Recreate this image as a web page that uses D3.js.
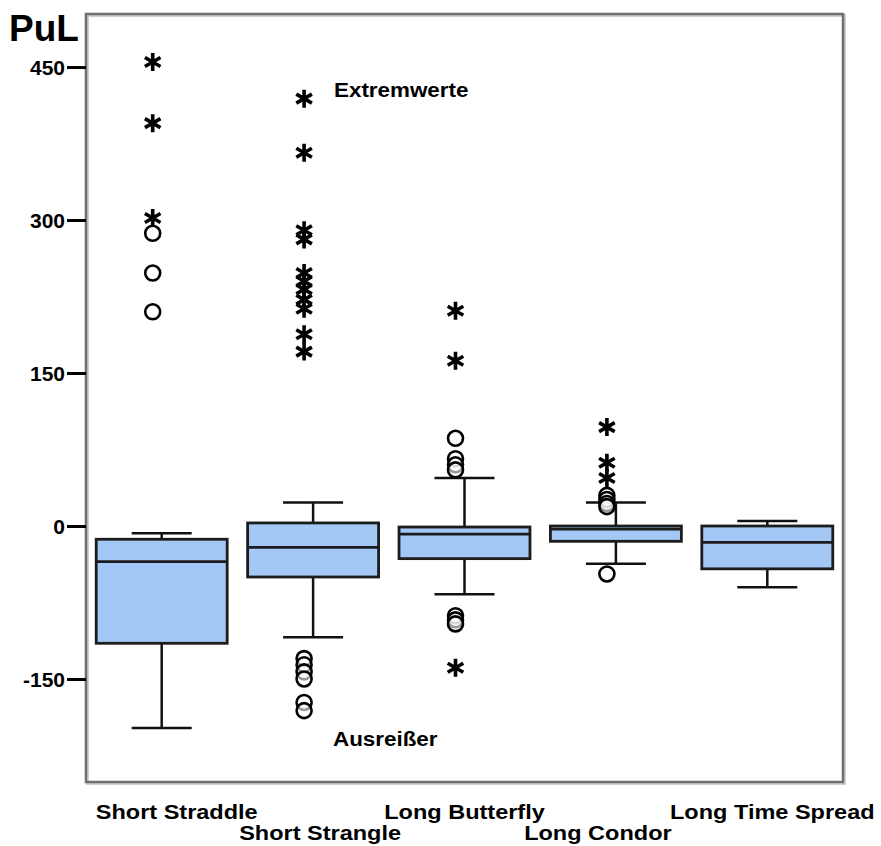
<!DOCTYPE html>
<html>
<head>
<meta charset="utf-8">
<script src="https://cdn.jsdelivr.net/npm/d3@7"></script>
<style>
  body { margin: 0; background: #fff; }
  text { font-family: "Liberation Sans", Arial, Helvetica, sans-serif; font-weight: bold; fill: #000; }
</style>
</head>
<body>
<div id="chart"></div>
<script>
// box plot values (PuL per strategy)
var categories  = ["Short Straddle", "Short Strangle", "Long Butterfly", "Long Condor", "Long Time Spread"];
var whiskerLow  = [-198, -109, -67, -37, -60];
var q1          = [-115, -50, -32, -15, -42];
var median      = [-35, -21, -8, -3, -16];
var q3          = [-13, 3, -1, 0, 0];
var whiskerHigh = [-7, 23, 47, 23, 5];
// circles = outliers, stars = extreme values
var outliers = [
    [287, 248, 210],
    [-130, -136, -143, -150, -173, -181],
    [86, 66, 60, 55, -88, -92, -96],
    [30, 26, 22, 19, -47],
    []
];
var extremes = [
    [455, 395, 302],
    [419, 366, 290, 281, 248, 240, 232, 222, 213, 188, 171],
    [211, 162, -139],
    [97, 62, 47],
    []
];
var yTicks = [-150, 0, 150, 300, 450];

// layout
var W = 881, H = 846;
var plotLeft = 86, plotRight = 843, plotTop = 14, plotBottom = 782;
var xStretch = 1.12; // the original text is a bit wider than Arial

var svg = d3.select("#chart").append("svg")
    .attr("width", W)
    .attr("height", H);

var x = d3.scaleBand()
    .domain(categories)
    .range([plotLeft, plotRight]);

var y = d3.scaleLinear()
    .domain([-251, 502])
    .range([plotBottom, plotTop]);

var boxW = x.bandwidth() * 0.865;
var capW = 60;
var markerShift = -9;

// frame with a soft shadow
svg.append("rect")
    .attr("x", plotLeft + 1.5).attr("y", plotTop + 1.5)
    .attr("width", plotRight - plotLeft).attr("height", plotBottom - plotTop)
    .attr("fill", "none").attr("stroke", "#cfcfcf").attr("stroke-width", 3);
svg.append("rect")
    .attr("x", plotLeft).attr("y", plotTop)
    .attr("width", plotRight - plotLeft).attr("height", plotBottom - plotTop)
    .attr("fill", "none").attr("stroke", "#6e6e6e").attr("stroke-width", 2.5);

// y axis (plain hyphen for negatives, like the original)
var yAxis = svg.append("g")
    .attr("transform", "translate(" + plotLeft + ",0)")
    .call(d3.axisLeft(y).tickValues(yTicks).tickFormat(function (d) { return String(d); })
        .tickSize(19).tickPadding(2));
yAxis.select(".domain").remove();
yAxis.selectAll("line").attr("stroke", "#000").attr("stroke-width", 3);
yAxis.selectAll("text")
    .style("font-size", "21px")
    .attr("dy", "0.36em");

svg.append("text")
    .attr("x", 9).attr("y", 41)
    .style("font-size", "37px")
    .attr("fill", "#1a1a1a")
    .text("PuL");

// boxes
var boxes = categories.map(function (c, i) {
    return { cat: c, lo: whiskerLow[i], q1: q1[i], med: median[i], q3: q3[i], hi: whiskerHigh[i],
             out: outliers[i], ext: extremes[i] };
});

var g = svg.selectAll(".box")
    .data(boxes)
    .enter().append("g")
    .attr("class", "box")
    .attr("transform", function (d) { return "translate(" + (x(d.cat) + x.bandwidth() / 2) + ",0)"; });

// whisker stems
g.append("line")
    .attr("x1", 0).attr("x2", 0)
    .attr("y1", function (d) { return y(d.hi); })
    .attr("y2", function (d) { return y(d.q3); })
    .attr("stroke", "#111").attr("stroke-width", 2.5);
g.append("line")
    .attr("x1", 0).attr("x2", 0)
    .attr("y1", function (d) { return y(d.q1); })
    .attr("y2", function (d) { return y(d.lo); })
    .attr("stroke", "#111").attr("stroke-width", 2.5);

// caps
g.selectAll(".cap")
    .data(function (d) { return [d.hi, d.lo]; })
    .enter().append("line")
    .attr("class", "cap")
    .attr("x1", -capW / 2).attr("x2", capW / 2)
    .attr("y1", function (v) { return y(v); })
    .attr("y2", function (v) { return y(v); })
    .attr("stroke", "#111").attr("stroke-width", 2.5);

// box
g.append("rect")
    .attr("x", -boxW / 2)
    .attr("width", boxW)
    .attr("y", function (d) { return y(d.q3); })
    .attr("height", function (d) { return y(d.q1) - y(d.q3); })
    .attr("fill", "#a3c8f5")
    .attr("stroke", "#1c1c1c")
    .attr("stroke-width", 2.8);

g.append("line")
    .attr("x1", -boxW / 2).attr("x2", boxW / 2)
    .attr("y1", function (d) { return y(d.med); })
    .attr("y2", function (d) { return y(d.med); })
    .attr("stroke", "#1c1c1c").attr("stroke-width", 2.8);

// outlier circles
g.selectAll(".out")
    .data(function (d) { return d.out; })
    .enter().append("circle")
    .attr("class", "out")
    .attr("cx", markerShift)
    .attr("cy", function (v) { return y(v); })
    .attr("r", 7.5)
    .attr("fill", "#fff").attr("fill-opacity", 0.6)
    .attr("stroke", "#000").attr("stroke-width", 2.6);

// extreme value asterisks
var starPath = (function () {
    var r = 9, p = "";
    [90, 30, -30].forEach(function (a) {
        var dx = r * Math.cos(a * Math.PI / 180), dy = r * Math.sin(a * Math.PI / 180);
        p += "M" + (-dx) + "," + (-dy) + "L" + dx + "," + dy;
    });
    return p;
})();

g.selectAll(".ext")
    .data(function (d) { return d.ext; })
    .enter().append("path")
    .attr("class", "ext")
    .attr("d", starPath)
    .attr("transform", function (v) { return "translate(" + markerShift + "," + y(v) + ")"; })
    .attr("stroke", "#000").attr("stroke-width", 3.6).attr("stroke-linecap", "butt")
    .attr("fill", "none");

// annotations
function wideText(tx, ty, str, size, anchor) {
    svg.append("g")
        .attr("transform", "translate(" + tx + "," + ty + ") scale(" + xStretch + ",1)")
        .append("text")
        .attr("text-anchor", anchor || "start")
        .style("font-size", size + "px")
        .text(str);
}
wideText(334, 97, "Extremwerte", 20);
wideText(333, 746, "Ausreißer", 20);

// category labels, staggered on two rows
var labelShift = [15, 7, 0, -18, 5];
categories.forEach(function (c, i) {
    wideText(x(c) + x.bandwidth() / 2 + labelShift[i], i % 2 === 0 ? 819 : 840, c, 21, "middle");
});
</script>
</body>
</html>
